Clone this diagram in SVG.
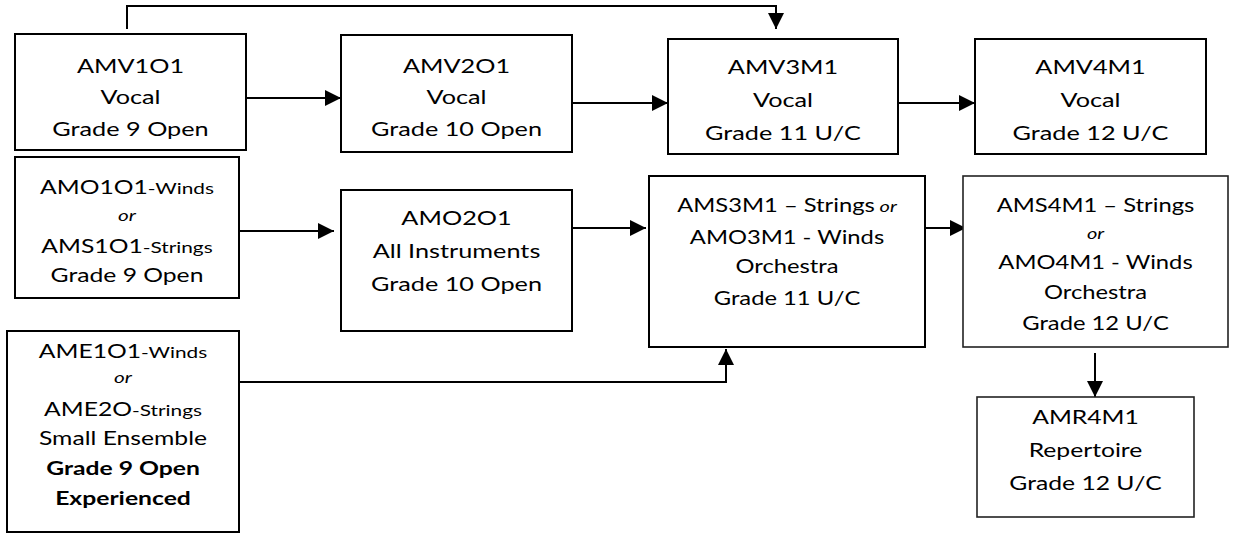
<svg xmlns="http://www.w3.org/2000/svg" width="1237" height="533" viewBox="0 0 1237 533">
<defs>
<style>
.box{fill:#fff;stroke:#000;stroke-width:2}
.thin{stroke-width:1.6;stroke:#222}
.t{font-family:Lato,"Liberation Sans",sans-serif;font-size:19px;fill:#000;text-anchor:middle}
.s{font-size:16px}
.i{font-style:italic;font-size:16px}
.b{font-weight:bold}
.c{fill:none;stroke:#000;stroke-width:2}
</style>
<marker id="ah" viewBox="0 0 16 16" refX="16" refY="8" markerWidth="16" markerHeight="16" markerUnits="userSpaceOnUse" orient="auto">
<path d="M0,0 L16,8 L0,16 z" fill="#000"/>
</marker>
</defs>
<rect width="1237" height="533" fill="#fff"/>
<g id="connectors">
<path class="c" d="M127,29 V6 H776 V29" marker-end="url(#ah)"/>
<path class="c" d="M246,98 H341" marker-end="url(#ah)"/>
<path class="c" d="M572,103 H668" marker-end="url(#ah)"/>
<path class="c" d="M898,103 H975" marker-end="url(#ah)"/>
<path class="c" d="M239,231 H334" marker-end="url(#ah)"/>
<path class="c" d="M572,228 H646" marker-end="url(#ah)"/>
<path class="c" d="M903,228 H966" marker-end="url(#ah)"/>
<path class="c" d="M239,382 H726 V349" marker-end="url(#ah)"/>
<path class="c" d="M1095,353 V397" marker-end="url(#ah)"/>
</g>
<g id="AMV1O1">
<rect class="box" x="15" y="34" width="231" height="116"/>
<g transform="translate(130.5 0) scale(1.33 1)"><text class="t" x="0" y="73">AMV1O1</text><text class="t" x="0" y="104.5">Vocal</text><text class="t" x="0" y="136.5">Grade 9 Open</text></g>
</g>
<g id="AMV2O1">
<rect class="box" x="341" y="35" width="231" height="117"/>
<g transform="translate(456.5 0) scale(1.33 1)"><text class="t" x="0" y="73">AMV2O1</text><text class="t" x="0" y="104.5">Vocal</text><text class="t" x="0" y="136.5">Grade 10 Open</text></g>
</g>
<g id="AMV3M1">
<rect class="box" x="668" y="39" width="230" height="115"/>
<g transform="translate(783 0) scale(1.33 1)"><text class="t" x="0" y="74">AMV3M1</text><text class="t" x="0" y="107">Vocal</text><text class="t" x="0" y="140">Grade 11 U/C</text></g>
</g>
<g id="AMV4M1">
<rect class="box" x="975" y="39" width="231" height="115"/>
<g transform="translate(1090.5 0) scale(1.33 1)"><text class="t" x="0" y="74">AMV4M1</text><text class="t" x="0" y="107">Vocal</text><text class="t" x="0" y="140">Grade 12 U/C</text></g>
</g>
<g id="AMO1O1">
<rect class="box" x="15" y="157" width="224" height="141"/>
<g transform="translate(127 0) scale(1.3 1)"><text class="t" x="0" y="194">AMO1O1<tspan class="s">-Winds</tspan></text><text class="t i" x="0" y="221">or</text><text class="t" x="0" y="253">AMS1O1<tspan class="s">-Strings</tspan></text><text class="t" x="0" y="282">Grade 9 Open</text></g>
</g>
<g id="AMO2O1">
<rect class="box" x="341" y="190" width="231" height="141"/>
<g transform="translate(456.5 0) scale(1.33 1)"><text class="t" x="0" y="225">AMO2O1</text><text class="t" x="0" y="258">All Instruments</text><text class="t" x="0" y="291">Grade 10 Open</text></g>
</g>
<g id="AMS3M1">
<rect class="box" x="649" y="176" width="276" height="171"/>
<g transform="translate(787 0) scale(1.25 1)"><text class="t" x="0" y="212.5">AMS3M1 – Strings<tspan class="i"> or</tspan></text><text class="t" x="0" y="244">AMO3M1 - Winds</text><text class="t" x="0" y="273.5">Orchestra</text><text class="t" x="0" y="305">Grade 11 U/C</text></g>
</g>
<g id="AMS4M1">
<rect class="box thin" x="963" y="176" width="265" height="171"/>
<g transform="translate(1095.5 0) scale(1.25 1)"><text class="t" x="0" y="212.5">AMS4M1 – Strings</text><text class="t i" x="0" y="239">or</text><text class="t" x="0" y="269.5">AMO4M1 - Winds</text><text class="t" x="0" y="299.5">Orchestra</text><text class="t" x="0" y="330.5">Grade 12 U/C</text></g>
</g>
<g id="AMR4M1">
<rect class="box thin" x="977" y="397" width="217" height="120"/>
<g transform="translate(1085.5 0) scale(1.3 1)"><text class="t" x="0" y="424">AMR4M1</text><text class="t" x="0" y="457.5">Repertoire</text><text class="t" x="0" y="490">Grade 12 U/C</text></g>
</g>
<g id="AME1O1">
<rect class="box" x="7" y="331" width="232" height="201"/>
<g transform="translate(123 0) scale(1.3 1)"><text class="t" x="0" y="358.5">AME1O1<tspan class="s">-Winds</tspan></text><text class="t i" x="0" y="383.5">or</text><text class="t" x="0" y="416.5">AME2O<tspan class="s">-Strings</tspan></text><text class="t" x="0" y="445.5">Small Ensemble</text><text class="t b" x="0" y="475">Grade 9 Open</text><text class="t b" x="0" y="505">Experienced</text></g>
</g>
</svg>
